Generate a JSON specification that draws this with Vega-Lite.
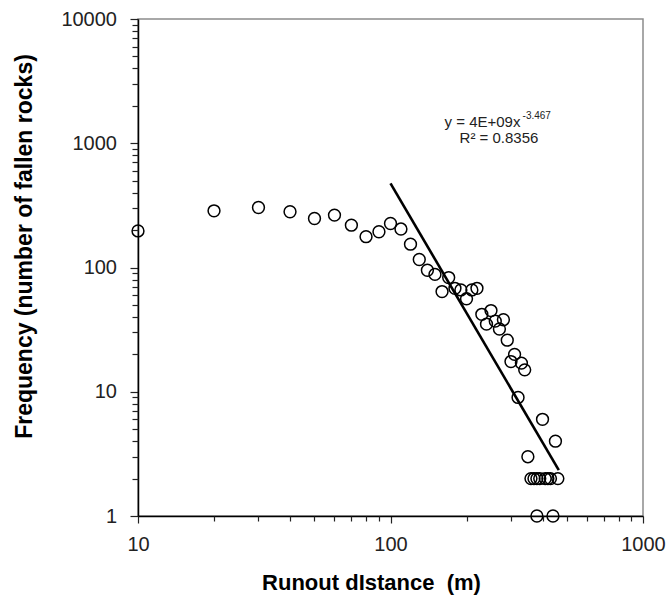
{
  "$schema": "https://vega.github.io/schema/vega-lite/v6.json",
  "width": 505,
  "height": 497,
  "autosize": "none",
  "padding": {"left": 138, "top": 19, "right": 27, "bottom": 79},
  "background": "white",
  "config": {
    "font": "Liberation Sans",
    "view": {"stroke": "#8c8c8c", "strokeWidth": 1.5},
    "axis": {"grid": false, "domainColor": "black", "domainWidth": 1.5, "tickColor": "#222", "tickWidth": 1.2, "labelColor": "#222", "titleColor": "black", "labelFlush": false, "labelOverlap": false, "labelBound": false}
  },
  "datasets": {
    "pts": [
      {"d": 10, "f": 197}, {"d": 20, "f": 286}, {"d": 30, "f": 304}, {"d": 40, "f": 281},
      {"d": 50, "f": 248}, {"d": 60, "f": 264}, {"d": 70, "f": 219}, {"d": 80, "f": 177},
      {"d": 90, "f": 194}, {"d": 100, "f": 226}, {"d": 110, "f": 204}, {"d": 120, "f": 154},
      {"d": 130, "f": 116}, {"d": 140, "f": 95}, {"d": 150, "f": 88}, {"d": 160, "f": 64},
      {"d": 170, "f": 83}, {"d": 180, "f": 68}, {"d": 190, "f": 66}, {"d": 200, "f": 56},
      {"d": 210, "f": 66}, {"d": 220, "f": 68}, {"d": 230, "f": 42}, {"d": 240, "f": 35},
      {"d": 250, "f": 45}, {"d": 260, "f": 37}, {"d": 270, "f": 32}, {"d": 280, "f": 38},
      {"d": 290, "f": 26}, {"d": 300, "f": 17.5}, {"d": 310, "f": 20}, {"d": 320, "f": 9},
      {"d": 330, "f": 17}, {"d": 340, "f": 15}, {"d": 350, "f": 3}, {"d": 360, "f": 2},
      {"d": 370, "f": 2}, {"d": 380, "f": 2}, {"d": 380, "f": 1}, {"d": 390, "f": 2},
      {"d": 400, "f": 6}, {"d": 410, "f": 2}, {"d": 420, "f": 2}, {"d": 430, "f": 2},
      {"d": 440, "f": 1}, {"d": 450, "f": 4}, {"d": 460, "f": 2}
    ],
    "fit": [{"d": 100, "f": 475}, {"d": 464, "f": 2.34}],
    "notes": [
      {"d": 163.7, "f": 1340, "t": "y = 4E+09x", "k": "main"},
      {"d": 333.4, "f": 1560, "t": "-3.467", "k": "sup"},
      {"d": 187.7, "f": 996, "t": "R² = 0.8356", "k": "main"}
    ]
  },
  "layer": [
    {
      "data": {"name": "pts"},
      "mark": {"type": "point", "shape": "circle", "filled": false, "stroke": "black", "strokeWidth": 1.5, "size": 140, "opacity": 1},
      "encoding": {
        "x": {"field": "d", "type": "quantitative", "scale": {"type": "log", "domain": [10, 1000]},
          "axis": {"values": [10, 100, 1000], "format": "d", "tickSize": 7, "labelPadding": 11, "labelFontSize": 20, "labelFont": "Liberation Sans",
            "title": "Runout dIstance \u00a0(m)", "titleFontSize": 22, "titleFontWeight": "bold", "titleX": 233, "titleY": 73, "titleAlign": "center", "titleBaseline": "alphabetic", "orient": "bottom"}},
        "y": {"field": "f", "type": "quantitative", "scale": {"type": "log", "domain": [1, 10000]},
          "axis": {"values": [1, 10, 100, 1000, 10000], "format": "d", "tickSize": 8, "labelPadding": 13.5, "labelFontSize": 20,
            "title": "Frequency (number of fallen rocks)", "titleFontSize": 23, "titleFontWeight": "bold", "titleX": -114, "titleY": 227, "titleAlign": "center", "titleBaseline": "middle", "titleAngle": -90, "orient": "left"}}
      }
    },
    {
      "data": {"name": "fit"},
      "mark": {"type": "line", "color": "black", "strokeWidth": 2.6},
      "encoding": {
        "x": {"field": "d", "type": "quantitative",
          "axis": {"orient": "bottom", "values": [20, 30, 40, 50, 60, 70, 80, 90, 200, 300, 400, 500, 600, 700, 800, 900], "labels": false, "domain": false, "tickSize": 5, "title": null}},
        "y": {"field": "f", "type": "quantitative",
          "axis": {"orient": "left", "values": [2, 3, 4, 5, 6, 7, 8, 9, 20, 30, 40, 50, 60, 70, 80, 90, 200, 300, 400, 500, 600, 700, 800, 900, 2000, 3000, 4000, 5000, 6000, 7000, 8000, 9000], "labels": false, "domain": false, "tickSize": 6, "title": null}}
      }
    },
    {
      "data": {"name": "notes"},
      "mark": {"type": "text", "align": "left", "baseline": "alphabetic", "color": "#222", "font": "Liberation Sans"},
      "encoding": {
        "x": {"field": "d", "type": "quantitative", "axis": null},
        "y": {"field": "f", "type": "quantitative", "axis": null},
        "text": {"field": "t"},
        "size": {"field": "k", "type": "nominal", "scale": {"domain": ["main", "sup"], "range": [15, 10]}, "legend": null}
      }
    }
  ],
  "resolve": {"axis": {"x": "independent", "y": "independent"}}
}
